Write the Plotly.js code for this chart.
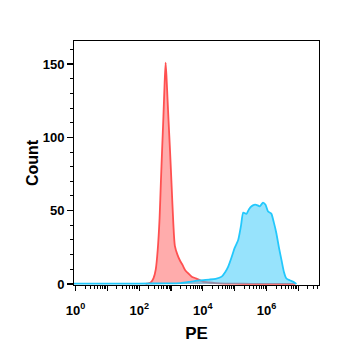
<!DOCTYPE html>
<html>
<head>
<meta charset="utf-8">
<script src="https://cdn.plot.ly/plotly-3.0.1.min.js"></script>
<style>html,body{margin:0;padding:0;background:#fff;}#chart{width:337px;height:350px;}</style>
</head>
<body>
<div id="chart"></div>
<script>
// Isotype control (red) histogram: log10(PE) bin centres and counts
const isoLogPE = [2.20, 2.30, 2.38, 2.45, 2.52, 2.58, 2.64, 2.68, 2.72, 2.76, 2.80, 2.83, 2.86, 2.89, 2.92, 2.97, 3.02, 3.07, 3.12, 3.20, 3.28, 3.36, 3.44, 3.55, 3.65, 3.78, 3.90, 4.00, 4.20, 4.40, 4.70, 5.00, 5.50, 6.00, 6.50, 6.90];
const isoCount = [0, 0.5, 1.5, 4, 10, 23, 45, 69, 92, 114, 138, 151, 140, 126, 112, 90, 66, 42, 26, 20, 16, 13, 9.6, 7, 5, 3.8, 2.7, 1.6, 1.0, 0.6, 0.3, 0.2, 0.1, 0.1, 0.05, 0];
// Stained sample (blue) histogram
const sampleLogPE = [-0.05, 1.0, 2.0, 2.8, 3.3, 3.6, 3.9, 4.2, 4.4, 4.59, 4.70, 4.80, 4.90, 5.00, 5.11, 5.20, 5.27, 5.37, 5.45, 5.53, 5.61, 5.68, 5.79, 5.89, 5.97, 6.05, 6.15, 6.23, 6.31, 6.39, 6.47, 6.55, 6.62, 6.73, 6.83, 6.94];
const sampleCount = [0.3, 0.3, 0.3, 0.4, 0.6, 1.5, 2.5, 3.0, 3.5, 5, 8, 12, 18, 24.6, 30, 40, 48.7, 47.8, 51, 53, 54, 54, 53, 55.5, 54, 49.4, 48, 42, 34.6, 25, 16.4, 8, 3.9, 2.5, 1.6, 0];
// Axis ticks
const xTickDecades = [0, 1, 2, 3, 4, 5, 6, 7];
const xTickLabels = ["10<sup>0</sup>", "", "10<sup>2</sup>", "", "10<sup>4</sup>", "", "10<sup>6</sup>", ""];
const yTickVals = [0, 50, 100, 150];

const xs1 = isoLogPE.map(v => Math.pow(10, v));
const xs2 = sampleLogPE.map(v => Math.pow(10, v));
const minorX = [];
xTickDecades.forEach(d => { for (let k = 2; k <= 9; k++) minorX.push(k * Math.pow(10, d)); });

const traces = [
  {x: xs1, y: isoCount, type: 'scatter', mode: 'lines', fill: 'tozeroy',
   line: {color: 'rgb(255,80,80)', width: 1.8, shape: 'spline', smoothing: 0.6},
   fillcolor: 'rgba(255,90,90,0.5)', hoverinfo: 'skip'},
  {x: xs2, y: sampleCount, type: 'scatter', mode: 'lines', fill: 'tozeroy',
   line: {color: 'rgb(35,200,252)', width: 1.8, shape: 'spline', smoothing: 0.6},
   fillcolor: 'rgba(55,202,250,0.52)', hoverinfo: 'skip'}
];

const fontFam = 'Liberation Sans, Arial, sans-serif';
const layout = {
  width: 337, height: 350,
  margin: {l: 74, r: 18, t: 41, b: 65},
  paper_bgcolor: '#fff', plot_bgcolor: '#fff',
  showlegend: false,
  xaxis: {
    type: 'log', range: [-0.05, 7.65],
    tickmode: 'array', tickvals: xTickDecades.map(d => Math.pow(10, d)), ticktext: xTickLabels,
    ticks: 'outside', ticklen: 5, tickwidth: 1.2, tickcolor: '#000',
    minor: {tickmode: 'array', tickvals: minorX, ticks: 'outside', ticklen: 3, tickwidth: 1, tickcolor: '#000'},
    showline: true, linecolor: '#000', linewidth: 1, mirror: true,
    showgrid: false, zeroline: false, ticklabelstandoff: 8,
    tickfont: {family: fontFam, size: 13, color: '#000', weight: 'bold'},
    title: {text: 'PE', font: {family: fontFam, size: 17, color: '#000', weight: 'bold'}, standoff: 10}
  },
  yaxis: {
    range: [-0.7, 165.7],
    tickmode: 'array', tickvals: yTickVals,
    ticks: 'outside', ticklen: 6, tickwidth: 1.2, tickcolor: '#000',
    minor: {dtick: 10, ticks: 'outside', ticklen: 3, tickwidth: 1, tickcolor: '#000'},
    showline: true, linecolor: '#000', linewidth: 1, mirror: true,
    showgrid: false, zeroline: false,
    tickfont: {family: fontFam, size: 13, color: '#000', weight: 'bold'},
    title: {text: 'Count', font: {family: fontFam, size: 16, color: '#000', weight: 'bold'}, standoff: 0}
  }
};
Plotly.newPlot('chart', traces, layout, {staticPlot: true, displayModeBar: false});
</script>
</body>
</html>
